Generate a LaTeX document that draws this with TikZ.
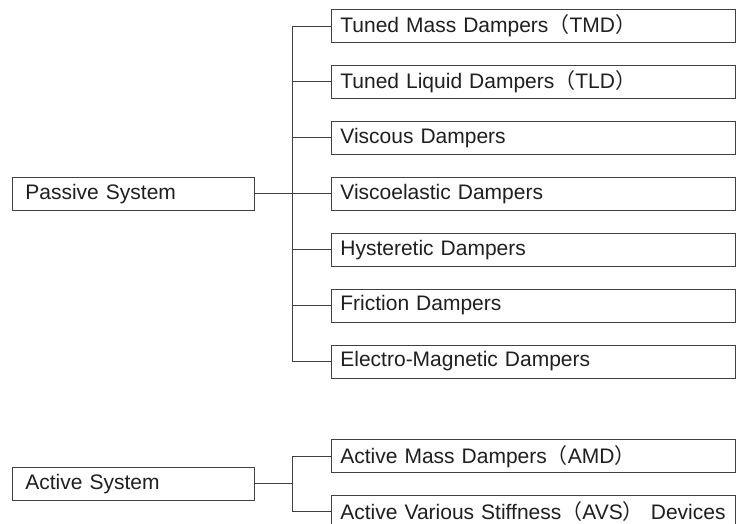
\documentclass[tikz,border=0pt]{standalone}
\usepackage{fontspec}
\setmainfont{Liberation Sans}
\newfontfamily\cjk{Noto Sans CJK SC}
\newcommand{\lp}{{\cjk （}}
\newcommand{\rp}{{\cjk ）}}
\begin{document}
\begin{tikzpicture}[x=1pt,y=-1pt,
  every node/.style={font=\fontsize{21}{24}\selectfont, text=black!88},
  itembox/.style={draw=black!75, line width=0.8pt, rectangle, anchor=west,
    text width=386pt, inner xsep=9pt, inner ysep=0pt, minimum height=33pt, align=left},
  sysbox/.style={draw=black!75, line width=0.8pt, rectangle, anchor=west,
    text width=216pt, inner xsep=13pt, inner ysep=0pt, minimum height=33pt, align=left},
  link/.style={draw=black!75, line width=0.8pt}]
\clip (0,0) rectangle (745,524);
\fill[white] (0,0) rectangle (745,524);

\node[sysbox] (ps) at (12,193.7) {Passive System};
\node[itembox] (tmd) at (331,26.0) {Tuned Mass Dampers\lp TMD\rp};
\node[itembox] (tld) at (331,81.9) {Tuned Liquid Dampers\lp TLD\rp};
\node[itembox] (vis) at (331,137.8) {Viscous Dampers};
\node[itembox] (ve) at (331,193.7) {Viscoelastic Dampers};
\node[itembox] (hys) at (331,249.6) {Hysteretic Dampers};
\node[itembox] (fri) at (331,305.5) {Friction Dampers};
\node[itembox] (em) at (331,361.4) {Electro-Magnetic Dampers};

\node[sysbox] (as) at (12,483.6) {Active System};
\node[itembox] (amd) at (331,456.3) {Active Mass Dampers\lp AMD\rp};
\node[itembox] (avs) at (331,511.5) {Active Various Stiffness\lp AVS\rp\ Devices};

\coordinate (pt) at (292,0);
\coordinate (at) at (292,0);

\draw[link] (tmd.west) -- (tmd.west -| pt) -- (em.west -| pt) -- (em.west);
\foreach \n in {tld,vis,ve,hys,fri} \draw[link] (\n.west) -- (\n.west -| pt);
\draw[link] (ps.east) -- (ve.west);

\draw[link] (amd.west) -- (amd.west -| at) -- (avs.west -| at) -- (avs.west);
\draw[link] (as.east) -- (as.east -| at);
\end{tikzpicture}
\end{document}
